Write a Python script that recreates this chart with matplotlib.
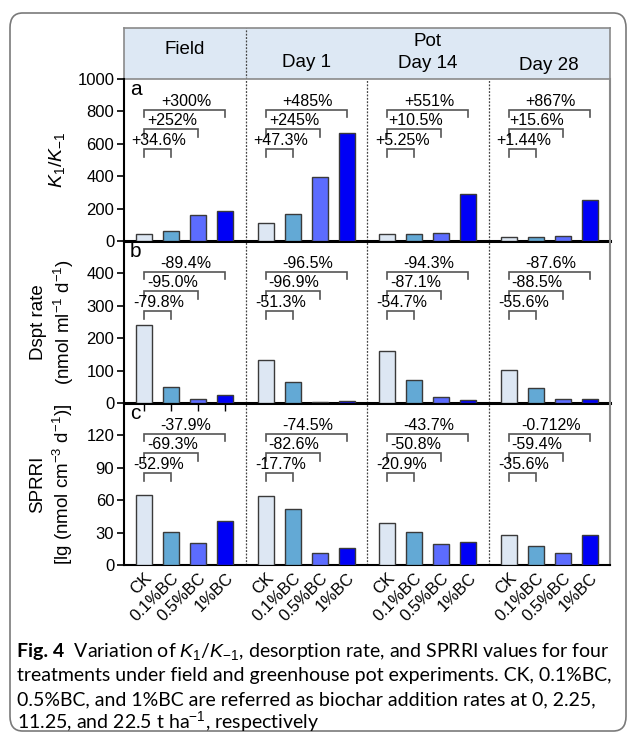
import numpy as np
import matplotlib.pyplot as plt
from matplotlib.patches import FancyBboxPatch

plt.rcParams['font.family'] = ['Liberation Sans', 'DejaVu Sans']
plt.rcParams['mathtext.fontset'] = 'custom'
plt.rcParams['mathtext.rm'] = 'Liberation Sans'
plt.rcParams['mathtext.it'] = 'Liberation Sans:italic'
plt.rcParams['mathtext.bf'] = 'Liberation Sans:bold'

treatments = ['CK', '0.1%BC', '0.5%BC', '1%BC']
groups = ['Field', 'Day 1', 'Day 14', 'Day 28']

# values (one row per group: Field, Day 1, Day 14, Day 28)
k_ratio = [[46, 62, 162, 184],
           [114, 168, 393, 667],
           [44, 46, 49, 288],
           [26.5, 27, 30.5, 256]]
dspt_rate = [[242, 49, 12, 26],
             [133, 65, 4, 5],
             [159, 72, 20, 9],
             [101, 45, 12, 12.5]]
sprri = [[65, 30.6, 20, 40.4],
         [63.5, 52.3, 11, 16.2],
         [38.6, 30.5, 19, 21.7],
         [28, 18, 11.3, 27.6]]

# percent change labels vs CK: (0.1%BC, 0.5%BC, 1%BC)
k_ratio_pct = [['+34.6%', '+252%', '+300%'],
               ['+47.3%', '+245%', '+485%'],
               ['+5.25%', '+10.5%', '+551%'],
               ['+1.44%', '+15.6%', '+867%']]
dspt_pct = [['-79.8%', '-95.0%', '-89.4%'],
            ['-51.3%', '-96.9%', '-96.5%'],
            ['-54.7%', '-87.1%', '-94.3%'],
            ['-55.6%', '-88.5%', '-87.6%']]
sprri_pct = [['-52.9%', '-69.3%', '-37.9%'],
             ['-17.7%', '-82.6%', '-74.5%'],
             ['-20.9%', '-50.8%', '-43.7%'],
             ['-35.6%', '-59.4%', '-0.712%']]

colors = ['#dde7f3', '#63a9d5', '#5c6cff', '#0000f6']

W, H = 630, 734
fig = plt.figure(figsize=(W / 100, H / 100), dpi=100)

# rounded frame around figure + caption
frame = FancyBboxPatch((10 / W, 3 / H), 616 / W, 718 / H,
                       boxstyle='round,pad=0,rounding_size=0.02',
                       transform=fig.transFigure, fc='none', ec='#7a7a7a', lw=1.2)
fig.patches.append(frame)

left, width = 124 / W, 486 / W


def fig_rect(top_px, bottom_px):
    return [left, 1 - bottom_px / H, width, (bottom_px - top_px) / H]


gap = 4.5
xlim = (-0.75, 4 * gap - 0.75)
seps = [g * gap - 0.75 for g in range(1, 4)]
xpos = np.array([[g * gap + i for i in range(4)] for g in range(4)])

# header strip
hax = fig.add_axes(fig_rect(28, 79))
hax.set_facecolor('#dde8f4')
hax.set_xlim(xlim)
hax.set_ylim(0, 1)
hax.set_xticks([])
hax.set_yticks([])
for s in hax.spines.values():
    s.set_color('#8a8a8a')
    s.set_linewidth(1.2)
hax.axvline(seps[0], color='#444444', lw=0.9, ls=(0, (1.5, 1.2)))
hfs = 13.5
hax.text(1.5, 0.57, 'Field', ha='center', va='center', fontsize=hfs)
hax.text((seps[0] + xlim[1]) / 2, 0.74, 'Pot', ha='center', va='center', fontsize=hfs)
hax.text(gap + 1.5, 0.33, 'Day 1', ha='center', va='center', fontsize=hfs)
hax.text(2 * gap + 1.5, 0.31, 'Day 14', ha='center', va='center', fontsize=hfs)
hax.text(3 * gap + 1.5, 0.27, 'Day 28', ha='center', va='center', fontsize=hfs)

panels = [
    (k_ratio, k_ratio_pct, 1000, np.arange(0, 1001, 200), 'a',
     r'$\mathit{K_1/K_{-1}}$', -0.138),
    (dspt_rate, dspt_pct, 500, np.arange(0, 401, 100), 'b',
     'Dspt rate\n(nmol ml$^{-1}$ d$^{-1}$)', -0.146),
    (sprri, sprri_pct, 150, np.arange(0, 121, 30), 'c',
     'SPRRI\n[lg (nmol cm$^{-3}$ d$^{-1}$)]', -0.148),
]
tops = [79, 241, 403]
bottoms = [241, 403, 565]
levels = [0.565, 0.69, 0.81]

for p, (vals, pct, ymax, yt, letter, ylab, labx) in enumerate(panels):
    ax = fig.add_axes(fig_rect(tops[p], bottoms[p]))
    ax.set_facecolor('none')
    for g in range(4):
        ax.bar(xpos[g], vals[g], width=0.6, color=colors, edgecolor='#3a3a3a',
               linewidth=1.0, zorder=3)
        x0 = xpos[g][0]
        for j in range(3):
            x1 = xpos[g][j + 1]
            y = levels[j] * ymax
            leg = 0.045 * ymax
            ax.plot([x0, x0, x1, x1], [y - leg, y, y, y - leg], color='#555555',
                    lw=1.2, solid_joinstyle='miter', zorder=4)
            ax.text((x0 + x1) / 2 + 0.05, y + 0.025 * ymax, pct[g][j], ha='center',
                    va='baseline', fontsize=11.5, zorder=5)
    for s in seps:
        ax.axvline(s, color='#444444', lw=0.9, ls=(0, (1.5, 1.2)), zorder=1)
    ax.set_xlim(xlim)
    ax.set_ylim(0, ymax)
    ax.set_yticks(yt)
    ax.tick_params(axis='y', direction='out', length=5, width=1.2, labelsize=12,
                   pad=2)
    ax.spines['top'].set_visible(False)
    ax.spines['left'].set_linewidth(1.5)
    ax.spines['right'].set_color('#8a8a8a')
    ax.spines['right'].set_linewidth(1.5)
    ax.spines['bottom'].set_linewidth(2.2 if p < 2 else 1.5)
    ax.text(0.012, 0.995, letter, transform=ax.transAxes, fontsize=15,
            ha='left', va='top')
    ax.set_ylabel(ylab, fontsize=14 if p == 0 else 13.5, linespacing=1.3)
    ax.yaxis.label.set_va('center')
    ax.yaxis.set_label_coords(labx, 0.5)
    if p == 2:
        ax.set_xticks(xpos.ravel())
        ax.set_xticklabels(treatments * 4, rotation=45, ha='right',
                           rotation_mode='anchor', fontsize=12)
        ax.tick_params(axis='x', length=0, pad=4)
    elif p == 1:
        ax.set_xticks(xpos[0])
        ax.set_xticklabels([])
        ax.tick_params(axis='x', direction='out', length=6, width=1.0)
    else:
        ax.set_xticks([])

# caption
cap_lines = [
    '  Variation of $K_1$/$K_{-1}$, desorption rate, and SPRRI values for four',
    'treatments under field and greenhouse pot experiments. CK, 0.1%BC,',
    '0.5%BC, and 1%BC are referred as biochar addition rates at 0, 2.25,',
    '11.25, and 22.5 t ha$^{-1}$, respectively',
]
cap_x = 17 / W
baselines = [657, 681, 705, 728]

probe = fig.text(cap_x, 0.5, cap_lines[1], fontsize=12, family='Lato')
fig.canvas.draw()
r = fig.canvas.get_renderer()
cap_size = 12 * 593 / probe.get_window_extent(r).width
probe.remove()

fig_lbl = fig.text(cap_x, 1 - baselines[0] / H, 'Fig. 4', fontsize=cap_size,
                   family='Lato', weight='bold', va='baseline')
fig.canvas.draw()
bx = fig_lbl.get_window_extent(r).x1 / W
fig.text(bx, 1 - baselines[0] / H, cap_lines[0], fontsize=cap_size,
         family='Lato', va='baseline')
for line, b in zip(cap_lines[1:], baselines[1:]):
    fig.text(cap_x, 1 - b / H, line, fontsize=cap_size, family='Lato',
             va='baseline')

fig.savefig('out.png', dpi=100)
